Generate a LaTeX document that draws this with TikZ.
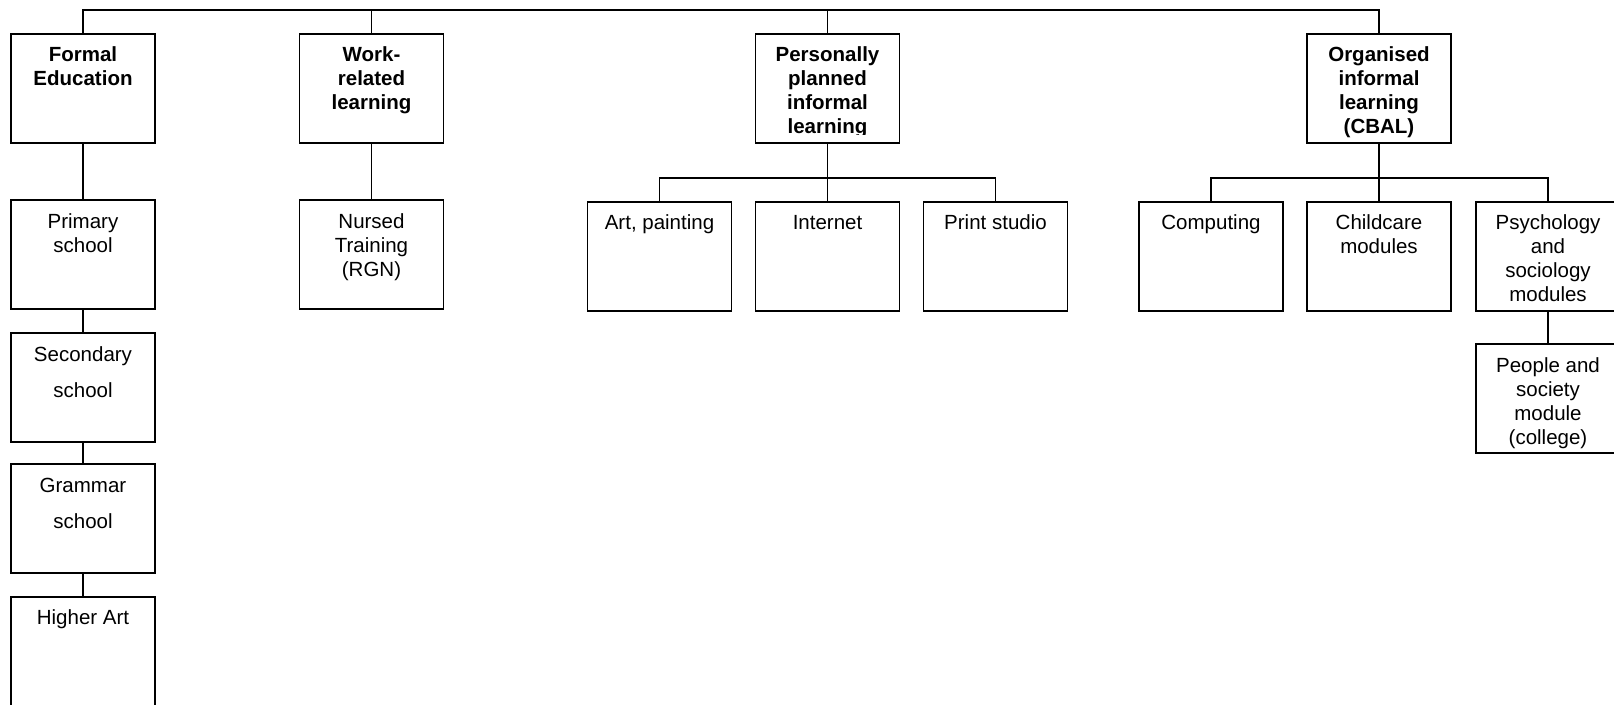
\documentclass[tikz,border=0pt]{standalone}
\usepackage{fontspec}
\setmainfont{Liberation Sans}
\begin{document}
\begin{tikzpicture}[x=1pt,y=-1pt,
  box/.style={draw=black,line width=1.8pt,minimum width=144pt,minimum height=109pt,inner sep=0pt,fill=white},
  lbl/.style={anchor=base,align=center,inner sep=0pt,font=\fontsize{20.5pt}{24pt}\selectfont},
  hdr/.style={lbl,font=\fontsize{20.5pt}{24pt}\selectfont\bfseries},
  wide/.style={lbl,font=\fontsize{20.5pt}{36.5pt}\selectfont},
  link/.style={draw=black,line width=1.8pt}]
\clip (0,0) rectangle (1614,704);
\fill[white] (0,0) rectangle (1614,704);

% top-level categories
\node[box] (formal) at (83,88.5) {};
\node[box] (work)   at (371.5,88.5) {};
\node[box] (pers)   at (827.5,88.5) {};
\node[box] (org)    at (1379,88.5) {};

% formal education column
\node[box] (primary) at (83,254.5) {};
\node[box] (second)  at (83,387.5) {};
\node[box] (grammar) at (83,518.5) {};
\node[box] (higher)  at (83,651.5) {};

% work-related learning
\node[box] (nursed) at (371.5,254.5) {};

% personally planned informal learning
\node[box] (art)      at (659.5,256.5) {};
\node[box] (internet) at (827.5,256.5) {};
\node[box] (print)    at (995.5,256.5) {};

% organised informal learning
\node[box] (computing) at (1211,256.5) {};
\node[box] (childcare) at (1379,256.5) {};
\node[box] (psych)     at (1548,256.5) {};
\node[box] (people)    at (1548,398.5) {};

% connectors
\coordinate (bar) at (0,10);
\coordinate (subbar) at (0,178);
\draw[link] (formal.north) -- (formal.north |- bar) -- (org.north |- bar) -- (org.north);
\draw[link] (work.north) -- (work.north |- bar);
\draw[link] (pers.north) -- (pers.north |- bar);

\draw[link] (formal.south) -- (primary.north);
\draw[link] (primary.south) -- (second.north);
\draw[link] (second.south) -- (grammar.north);
\draw[link] (grammar.south) -- (higher.north);

\draw[link] (work.south) -- (nursed.north);

\draw[link] (pers.south) -- (internet.north);
\draw[link] (art.north) -- (art.north |- subbar) -- (print.north |- subbar) -- (print.north);

\draw[link] (org.south) -- (childcare.north);
\draw[link] (computing.north) -- (computing.north |- subbar) -- (psych.north |- subbar) -- (psych.north);

\draw[link] (psych.south) -- (people.north);

% labels (anchored at the baseline of their last line)
\node[hdr] (tformal) at ([yshift=-52.5pt]formal.north) {Formal\\Education};
\node[hdr] (twork) at ([yshift=-76.5pt]work.north) {Work-\\related\\learning};
\begin{scope}
  \clip (755,35) rectangle (900,134.5);
  \node[hdr] (tpers) at ([yshift=-100.5pt]pers.north) {Personally\\planned\\informal\\learning};
\end{scope}
\node[hdr] (torg) at ([yshift=-100.5pt]org.north) {Organised\\informal\\learning\\(CBAL)};

\node[lbl] (tprimary) at ([yshift=-53pt]primary.north) {Primary\\school};
\node[wide] (tsecond) at ([yshift=-65.5pt]second.north) {Secondary\\school};
\node[wide] (tgrammar) at ([yshift=-65.5pt]grammar.north) {Grammar\\school};
\node[lbl] (thigher) at ([yshift=-28.5pt]higher.north) {Higher Art};

\node[lbl] (tnursed) at ([yshift=-77pt]nursed.north) {Nursed\\Training\\(RGN)};

\node[lbl] (tart) at ([yshift=-28pt]art.north) {Art, painting};
\node[lbl] (tinternet) at ([yshift=-28pt]internet.north) {Internet};
\node[lbl] (tprint) at ([yshift=-28pt]print.north) {Print studio};

\node[lbl] (tcomputing) at ([yshift=-28pt]computing.north) {Computing};
\node[lbl] (tchildcare) at ([yshift=-52pt]childcare.north) {Childcare\\modules};
\node[lbl] (tpsych) at ([yshift=-100pt]psych.north) {Psychology\\and\\sociology\\modules};
\node[lbl] (tpeople) at ([yshift=-101pt]people.north) {People and\\society\\module\\(college)};
\end{tikzpicture}
\end{document}
